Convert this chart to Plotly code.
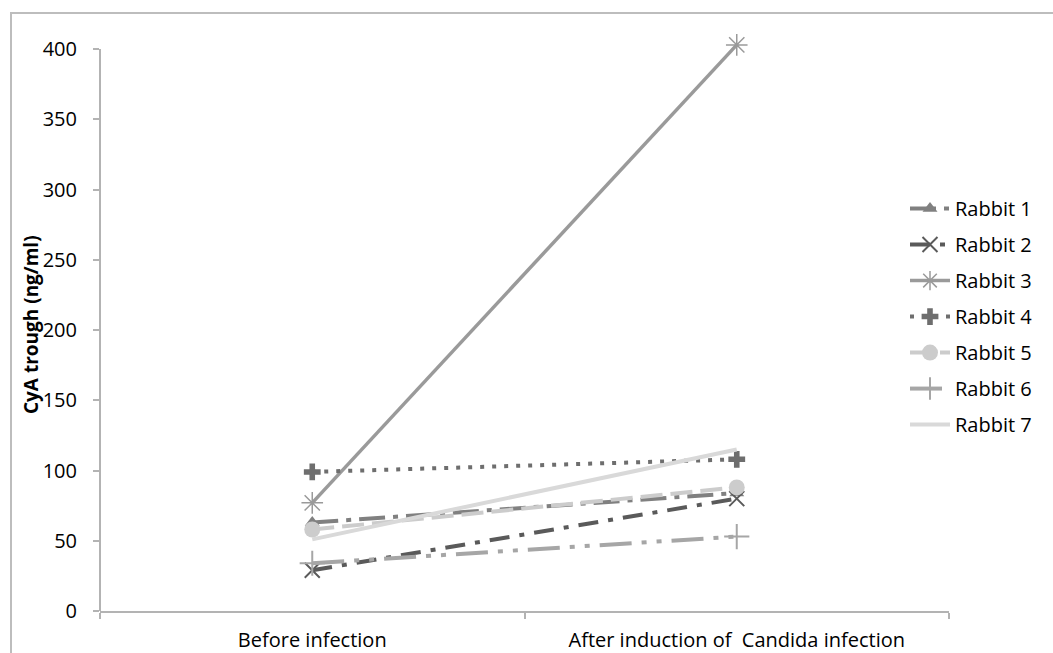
import plotly.graph_objects as go

categories = ["Before infection", "After induction of  Candida infection"]
series_names = ["Rabbit 1", "Rabbit 2", "Rabbit 3", "Rabbit 4", "Rabbit 5", "Rabbit 6", "Rabbit 7"]
rabbit1 = [63, 84]
rabbit2 = [29, 80]
rabbit3 = [77, 403]
rabbit4 = [99, 108]
rabbit5 = [58, 88]
rabbit6 = [34, 53]
rabbit7 = [51, 115]
y_ticks = [0, 50, 100, 150, 200, 250, 300, 350, 400]

values = [rabbit1, rabbit2, rabbit3, rabbit4, rabbit5, rabbit6, rabbit7]

styles = [
    dict(color="#808080", dash="26px,8px,5px,8px", width=4, symbol="triangle-up", msize=13, mline=0),
    dict(color="#5a5a5a", dash="20px,10px,5px,10px", width=4, symbol="x-thin-open", msize=15, mline=2),
    dict(color="#9a9a9a", dash="solid", width=3.5, symbol="asterisk-open", msize=18, mline=1.5),
    dict(color="#6e6e6e", dash="4px,8px", width=4, symbol="cross", msize=14, mline=0),
    dict(color="#cccccc", dash="22px,8px", width=4, symbol="circle", msize=16, mline=0),
    dict(color="#a6a6a6", dash="32px,10px,5px,10px,5px,10px", width=4, symbol="cross-thin-open", msize=18, mline=2),
    dict(color="#d9d9d9", dash="solid", width=4, symbol=None, msize=0, mline=0),
]

fig = go.Figure()
for name, vals, st in zip(series_names, values, styles):
    marker = dict(symbol=st["symbol"], size=st["msize"], color=st["color"],
                  line=dict(color=st["color"], width=st["mline"])) if st["symbol"] else None
    fig.add_trace(go.Scatter(
        x=categories, y=vals, name=name, legendgroup=name,
        mode="lines+markers" if st["symbol"] else "lines",
        line=dict(color=st["color"], width=st["width"], dash=st["dash"]),
        marker=marker, cliponaxis=False,
    ))

# pixel geometry: y=0 at 611, y=400 at 49; extend range to 420 so the 403 point is inside
YMAX = 420
L, R, B = 100, 949, 611
PXU = (611 - 49) / 400.0
T = B - YMAX * PXU
W, H = 1053, 653
def px_x(p):
    return (p - L) / (R - L)
def px_y(p):
    return (B - p) / (B - T)

FONT = "Open Sans, Liberation Sans, sans-serif"
AX = "#b3b3b3"
fig.update_layout(
    width=W, height=H,
    margin=dict(l=L, r=W - R, t=T, b=H - B, autoexpand=False),
    plot_bgcolor="white", paper_bgcolor="white",
    font=dict(family=FONT, size=20, color="#000000"),
    showlegend=True,
    legend=dict(x=px_x(905), y=px_y(189), xanchor="left", yanchor="top",
                font=dict(size=20), tracegroupgap=7, bgcolor="rgba(0,0,0,0)",
                itemwidth=40),
    xaxis=dict(type="category", range=[-0.5, 1.5], showgrid=False, showline=True,
               linecolor=AX, linewidth=2, ticks="outside", ticklen=6,
               tickcolor=AX, tickwidth=2, tickson="boundaries", automargin=False,
               tickfont=dict(size=20), ticklabelstandoff=10, zeroline=False),
    yaxis=dict(range=[0, YMAX], tickvals=y_ticks, showgrid=False, showline=False,
               ticks="outside", ticklen=6, automargin=False,
               tickcolor=AX, tickwidth=2, tickfont=dict(size=20),
               ticklabelstandoff=12, zeroline=False),
    annotations=[dict(text="<b>CyA trough (ng/ml)</b>", textangle=-90,
                      xref="paper", yref="paper", x=px_x(31), y=px_y(325),
                      showarrow=False, font=dict(size=19), xanchor="center", yanchor="middle")],
    shapes=[
        dict(type="rect", xref="paper", yref="paper",
             x0=px_x(11), x1=px_x(1070), y0=px_y(680), y1=px_y(13),
             line=dict(color="#bdbdbd", width=2), layer="below"),
        dict(type="line", xref="paper", yref="y", x0=0, x1=0, y0=0, y1=y_ticks[-1],
             line=dict(color=AX, width=2), layer="below"),
    ],
)

fig.write_html("out.html")
